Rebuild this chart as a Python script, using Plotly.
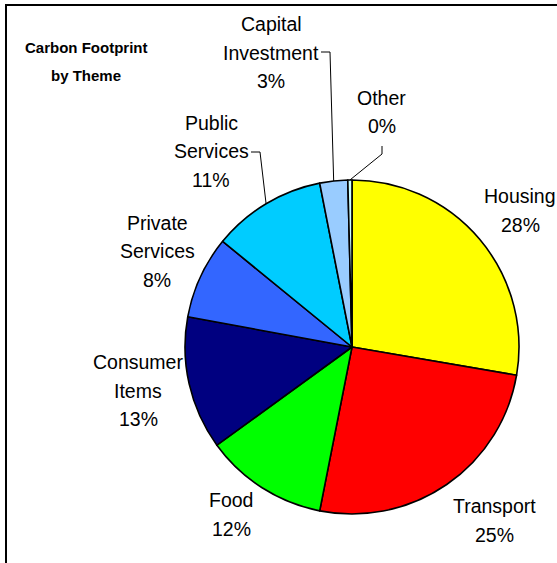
import math
import plotly.graph_objects as go

# ---- data ----
themes = ["Housing", "Transport", "Food", "Consumer Items", "Private Services",
          "Public Services", "Capital Investment", "Other"]
shares = [27.7, 25.4, 11.9, 12.9, 8.0, 11.0, 2.7, 0.4]
colors = ["#FFFF00", "#FF0000", "#00FF00", "#000080", "#3366FF",
          "#00CCFF", "#99CCFF", "#CCFFFF"]
label_lines = [["Housing"], ["Transport"], ["Food"], ["Consumer", "Items"],
               ["Private", "Services"], ["Public", "Services"],
               ["Capital", "Investment"], ["Other"]]
title_lines = ["Carbon Footprint", "by Theme"]

W, H = 557, 563
CX, CY, R = 352, 347, 167

# label centres (px, first line) — layout positions
label_pos = {
    "Housing": (520, 196), "Transport": (494, 506), "Food": (231, 500),
    "Consumer Items": (138, 362), "Private Services": (157, 223),
    "Public Services": (211, 123), "Capital Investment": (271, 24),
    "Other": (382, 98),
}
LS = 28.5
FONT = "Liberation Sans, Arial, sans-serif"

def px(x):
    return x / W

def py(y):
    return 1 - y / H

fig = go.Figure(go.Pie(
    labels=themes, values=shares, sort=False, direction="clockwise",
    rotation=0, textinfo="none", hoverinfo="label+percent",
    marker=dict(colors=colors, line=dict(color="black", width=1.6)),
    domain=dict(x=[px(CX - R), px(CX + R)], y=[py(CY + R), py(CY - R)]),
    showlegend=False,
))

total = sum(shares)
annotations = []
for name, lines, v in zip(themes, label_lines, shares):
    x0, y0 = label_pos[name]
    all_lines = lines + [f"{round(v / total * 100):.0f}%"]
    for i, t in enumerate(all_lines):
        annotations.append(dict(
            x=px(x0), y=py(y0 + i * LS), xref="paper", yref="paper",
            text=t, showarrow=False, xanchor="center", yanchor="middle",
            font=dict(family=FONT, size=19.5, color="black")))

for i, t in enumerate(title_lines):
    annotations.append(dict(
        x=px(86), y=py(47 + i * 28.5), xref="paper", yref="paper",
        text=f"<b>{t}</b>", showarrow=False, xanchor="center", yanchor="middle",
        font=dict(family=FONT, size=15, color="black")))

# leader lines: from label elbow to the slice's mid-angle point on the rim
cum = 0
mid = {}
for name, v in zip(themes, shares):
    mid[name] = (cum + v / 2) / total * 2 * math.pi
    cum += v

def rim(name):
    a = mid[name]
    return CX + R * math.sin(a), CY - R * math.cos(a)

leaders = {
    "Capital Investment": [(321, 52), (330, 52)],
    "Other": [(382, 146), (382, 154)],
    "Public Services": [(251, 152), (260, 152)],
}
shapes = []
for name, pts in leaders.items():
    pts = pts + [rim(name)]
    for (xa, ya), (xb, yb) in zip(pts[:-1], pts[1:]):
        shapes.append(dict(type="line", xref="paper", yref="paper",
                           x0=px(xa), y0=py(ya), x1=px(xb), y1=py(yb),
                           line=dict(color="black", width=1)))

# outer frame
shapes.append(dict(type="rect", xref="paper", yref="paper",
                   x0=px(6), y0=-0.05, x1=1.05, y1=py(5),
                   line=dict(color="black", width=2)))

fig.update_layout(
    width=W, height=H, margin=dict(l=0, r=0, t=0, b=0),
    paper_bgcolor="white", plot_bgcolor="white",
    annotations=annotations, shapes=shapes,
)
fig.write_html("out.html", config={"displayModeBar": False},
               post_script="document.body.style.margin='0';"
                           "document.body.style.overflow='hidden';")
